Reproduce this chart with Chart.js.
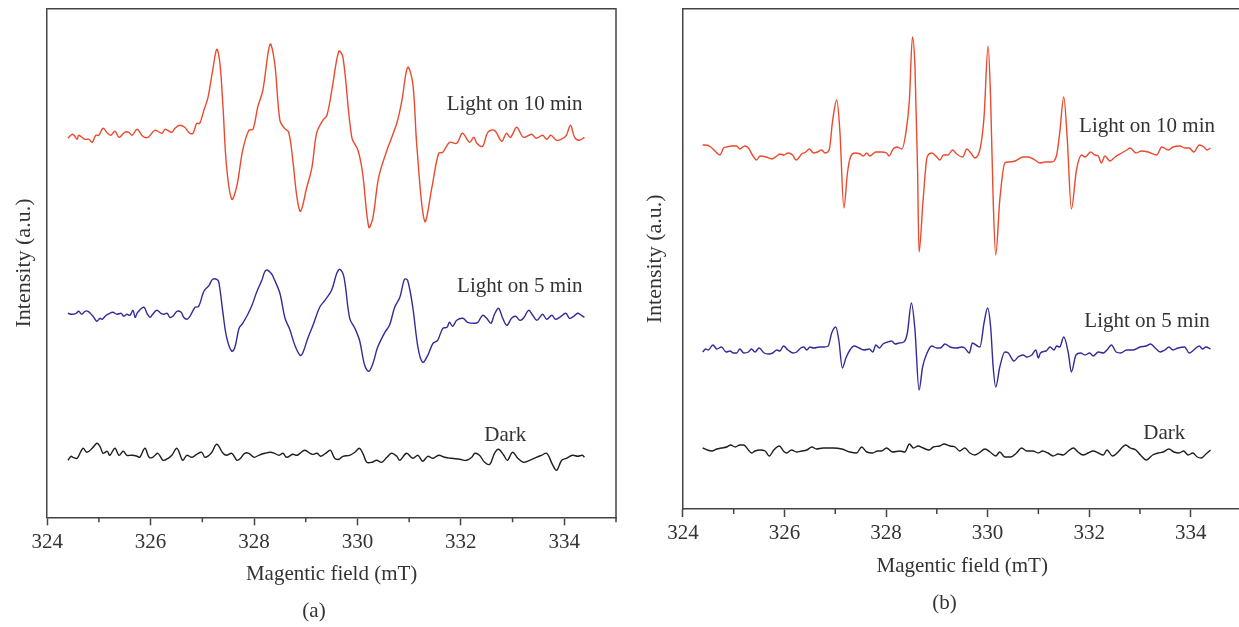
<!DOCTYPE html>
<html>
<head>
<meta charset="utf-8">
<script src="https://cdn.jsdelivr.net/npm/chart.js@4.4.0/dist/chart.umd.min.js"></script>
<style>
  body { margin: 0; background: #fff; overflow: hidden; }
  #wrap { position: relative; width: 1239px; height: 627px; overflow: hidden; }
  canvas { position: absolute; top: 0; }
  #chartA { left: 0; }
  #chartB { left: 620px; }
</style>
</head>
<body>
<div id="wrap">
  <canvas id="chartA" width="640" height="627"></canvas>
  <canvas id="chartB" width="640" height="627"></canvas>
</div>
<script>
// EPR spectra, magnetic field in mT, intensity in arbitrary units

// (a) light on 10 min
var fieldA10 = [
  324.40,324.48,324.52,324.58,324.61,324.73,324.81,324.87,324.94,325.00,
  325.08,325.17,325.23,325.31,325.39,325.50,325.58,325.64,325.74,325.85,
  325.95,326.08,326.22,326.28,326.41,326.47,326.56,326.66,326.72,326.76,
  326.82,326.89,326.95,327.03,327.11,327.20,327.28,327.34,327.40,327.47,
  327.57,327.67,327.78,327.90,327.98,328.07,328.17,328.31,328.40,328.50,
  328.59,328.67,328.75,328.83,328.90,329.02,329.12,329.21,329.33,329.41,
  329.52,329.64,329.72,329.89,330.01,330.10,330.22,330.30,330.41,330.57,
  330.76,330.86,330.97,331.07,331.15,331.30,331.44,331.57,331.65,331.78,
  331.92,332.03,332.17,332.25,332.31,332.42,332.52,332.65,332.79,332.88,
  332.96,333.08,333.21,333.37,333.46,333.58,333.66,333.74,333.85,333.97,
  334.04,334.12,334.20,334.29,334.39
];
var intA10 = [
  379,383,382,378,382,378,378,375,382,382,
  389,384,382,386,380,385,385,382,388,381,
  380,387,384,388,385,389,392,390,386,384,
  384,394,394,407,420,447,468,454,410,350,
  318,332,367,387,388,410,427,473,454,397,
  389,385,357,320,306,330,350,384,397,402,
  432,466,460,380,367,344,290,300,340,367,
  394,417,450,434,370,296,330,364,365,375,
  374,384,375,380,374,371,385,387,376,384,
  380,390,380,383,379,382,378,382,377,379,
  382,392,380,377,380
];

// (a) light on 5 min
var fieldA5 = [
  324.40,324.48,324.56,324.61,324.67,324.73,324.79,324.87,324.90,324.96,
  325.02,325.06,325.14,325.21,325.27,325.35,325.43,325.48,325.54,325.60,
  325.66,325.70,325.75,325.87,325.93,325.99,326.04,326.12,326.20,326.26,
  326.32,326.37,326.43,326.51,326.59,326.64,326.70,326.76,326.86,326.93,
  327.03,327.13,327.20,327.28,327.32,327.40,327.47,327.57,327.63,327.71,
  327.78,327.88,327.96,328.05,328.15,328.23,328.33,328.40,328.50,328.60,
  328.69,328.79,328.89,328.94,329.04,329.14,329.27,329.37,329.50,329.60,
  329.66,329.74,329.85,329.95,330.04,330.14,330.22,330.30,330.39,330.53,
  330.62,330.72,330.82,330.91,330.97,331.07,331.17,331.26,331.36,331.46,
  331.55,331.65,331.73,331.78,331.84,331.92,332.04,332.13,332.27,332.33,
  332.42,332.50,332.58,332.65,332.73,332.81,332.89,332.98,333.06,333.14,
  333.21,333.31,333.39,333.47,333.58,333.66,333.76,333.83,333.91,334.03,
  334.10,334.18,334.26,334.33,334.39
];
var intA5 = [
  204,203,204,206,203,206,206,202,200,196,
  199,198,202,204,205,203,204,201,203,202,
  207,200,205,210,204,200,203,207,204,203,
  204,200,201,206,205,200,198,201,210,211,
  226,232,238,238,235,204,180,166,170,189,
  194,203,212,225,237,247,244,237,224,199,
  188,172,162,164,179,192,210,217,227,244,
  248,240,199,189,177,152,146,154,170,185,
  192,210,220,238,237,210,170,155,162,174,
  177,189,190,195,191,197,199,195,194,195,
  202,199,194,203,209,199,192,199,201,197,
  199,207,202,197,203,198,202,198,200,204,
  199,201,204,202,200
];

// (a) dark
var fieldADark = [
  324.40,324.46,324.50,324.58,324.69,324.77,324.87,324.96,325.02,325.08,
  325.16,325.21,325.31,325.39,325.47,325.54,325.64,325.74,325.79,325.89,
  325.97,326.04,326.14,326.24,326.34,326.41,326.51,326.62,326.70,326.80,
  326.89,326.99,327.05,327.17,327.28,327.40,327.47,327.57,327.67,327.74,
  327.82,327.90,328.00,328.09,328.21,328.31,328.40,328.48,328.56,328.63,
  328.75,328.83,328.89,328.98,329.12,329.22,329.29,329.41,329.48,329.56,
  329.64,329.72,329.85,329.95,330.04,330.12,330.18,330.28,330.37,330.47,
  330.57,330.66,330.76,330.82,330.95,331.07,331.17,331.26,331.36,331.46,
  331.57,331.69,331.82,331.98,332.11,332.21,332.27,332.36,332.46,332.56,
  332.65,332.73,332.83,332.90,333.00,333.10,333.21,333.33,333.46,333.56,
  333.66,333.77,333.85,333.95,334.04,334.16,334.26,334.35,334.39
];
var intADark = [
  57,61,60,59,69,65,69,74,71,64,
  66,62,69,62,66,62,62,61,60,69,
  60,60,64,57,59,62,69,57,62,60,
  63,65,60,64,73,64,62,64,57,59,
  64,64,60,62,64,65,64,62,64,60,
  63,62,64,67,63,64,61,65,67,59,
  58,61,62,65,69,62,55,55,57,55,
  60,64,61,57,64,59,62,56,61,59,
  62,60,59,58,57,60,64,62,55,53,
  64,68,62,57,65,59,55,57,60,62,
  64,53,47,57,59,62,61,62,60
];

// (b) light on 10 min
var fieldB10 = [
  324.39,324.45,324.55,324.63,324.73,324.80,324.86,324.96,325.06,325.12,
  325.22,325.29,325.37,325.45,325.52,325.64,325.75,325.85,325.91,325.99,
  326.07,326.16,326.23,326.34,326.42,326.49,326.57,326.65,326.73,326.80,
  326.88,326.95,327.03,327.09,327.17,327.24,327.30,327.39,327.49,327.55,
  327.62,327.68,327.80,327.91,328.01,328.06,328.14,328.22,328.31,
  328.39,328.46,328.52,328.57,328.62,328.65,328.73,328.81,328.90,329.00,
  329.06,329.13,329.22,329.31,329.39,329.51,329.59,329.67,329.75,329.86,
  329.93,330.01,330.06,330.11,330.16,330.24,330.34,330.41,330.54,330.70,
  330.80,330.93,331.03,331.13,331.26,331.36,331.42,331.50,331.57,331.65,
  331.75,331.85,331.92,332.03,332.11,332.18,332.24,332.31,332.41,332.51,
  332.64,332.74,332.81,332.92,333.03,333.16,333.33,333.43,333.56,333.65,
  333.79,333.88,333.97,334.06,334.17,334.26,334.32,334.39
];
var intB10 = [
  364,364,362,358,354,361,362,363,363,360,
  363,361,354,349,353,352,350,353,355,354,
  356,354,349,355,357,360,356,357,359,356,
  359,389,409,379,301,336,352,356,355,353,
  356,353,357,357,356,353,360,362,360,
  376,409,472,442,342,257,309,352,356,352,
  349,354,354,359,355,352,360,356,351,362,
  392,463,409,309,254,309,346,347,348,352,
  352,349,346,347,347,354,376,412,369,300,
  339,354,352,357,354,353,346,353,348,352,
  356,359,361,356,358,357,354,362,359,362,
  363,361,361,357,364,362,359,361
];

// (b) light on 5 min
var fieldB5 = [
  324.39,324.45,324.50,324.59,324.67,324.76,324.85,324.93,324.99,325.06,
  325.12,325.20,325.29,325.35,325.42,325.50,325.60,325.68,325.77,325.85,
  325.91,325.98,326.07,326.17,326.24,326.32,326.38,326.44,326.50,326.58,
  326.69,326.78,326.86,326.93,327.01,327.07,327.14,327.21,327.29,327.37,
  327.47,327.57,327.67,327.74,327.80,327.87,327.94,328.03,328.11,328.18,
  328.26,328.35,328.42,328.50,328.57,328.65,328.72,328.80,328.90,329.00,
  329.07,329.16,329.26,329.39,329.49,329.55,329.64,329.70,329.80,329.85,
  329.93,330.00,330.06,330.11,330.16,330.24,330.34,330.41,330.52,330.60,
  330.70,330.77,330.87,330.95,331.00,331.04,331.15,331.23,331.31,331.36,
  331.42,331.50,331.59,331.65,331.74,331.83,331.92,332.01,332.08,332.18,
  332.28,332.35,332.44,332.53,332.62,332.74,332.87,333.00,333.12,333.21,
  333.30,333.40,333.49,333.57,333.65,333.75,333.88,333.97,334.06,334.17,
  334.23,334.30,334.39
];
var intB5 = [
  157,160,159,164,160,162,157,158,156,156,
  160,156,157,160,157,161,156,155,156,159,
  158,163,159,156,157,161,162,159,162,161,
  162,162,163,176,182,169,141,151,159,163,
  161,159,160,157,164,161,165,167,168,165,
  166,167,176,206,179,119,142,155,163,161,
  161,165,162,161,162,161,156,166,163,162,
  186,201,182,142,122,142,157,156,148,152,
  154,152,154,159,151,156,158,162,159,163,
  162,172,156,137,154,156,154,156,153,157,
  156,159,164,157,156,159,159,162,163,165,
  161,157,159,162,159,161,162,156,159,163,
  160,162,160
];

// (b) dark
var fieldBDark = [
  324.39,324.48,324.57,324.67,324.76,324.86,324.94,325.03,325.12,325.20,
  325.29,325.35,325.42,325.52,325.62,325.70,325.79,325.90,325.98,326.04,
  326.14,326.24,326.34,326.44,326.54,326.63,326.76,326.96,327.13,327.29,
  327.42,327.52,327.62,327.74,327.83,327.91,328.01,328.13,328.27,328.37,
  328.46,328.54,328.63,328.73,328.85,328.93,329.06,329.14,329.26,329.36,
  329.45,329.55,329.65,329.75,329.83,329.95,330.05,330.16,330.24,330.34,
  330.45,330.57,330.67,330.77,330.89,331.00,331.08,331.19,331.29,331.39,
  331.49,331.59,331.69,331.78,331.88,331.98,332.08,332.18,332.28,332.35,
  332.46,332.55,332.64,332.72,332.81,332.92,333.01,333.13,333.25,333.36,
  333.46,333.57,333.67,333.77,333.86,333.95,334.04,334.13,334.21,334.30,
  334.39
];
var intBDark = [
  61,59,58,60,61,62,64,62,64,64,
  59,56,58,59,58,53,59,63,58,56,
  59,57,58,59,62,60,61,61,60,57,
  56,62,57,56,58,58,61,57,58,57,
  65,61,63,61,59,62,63,65,63,62,
  58,61,56,54,56,60,57,53,57,52,
  52,56,61,58,58,56,58,56,53,55,
  54,58,61,57,54,56,58,56,54,59,
  53,56,61,64,61,59,54,49,54,56,
  57,60,57,56,58,54,56,52,51,55,
  59
];

var RED = '#eb4a2e', BLUE = '#312c97', BLACK = '#1f1f1f';
var SERIF = '"Liberation Serif", "Times New Roman", serif';

function points(xs, ys) {
  return xs.map(function(x, i) { return { x: x, y: ys[i] }; });
}

// broad lines (a) get a plain bezier, the narrow lines (b) stay monotone
function trace(xs, ys, color, smooth) {
  var ds = {
    data: points(xs, ys),
    borderColor: color,
    borderWidth: 1.4,
    pointRadius: 0,
    fill: false
  };
  if (smooth) ds.tension = 0.35;
  else ds.cubicInterpolationMode = 'monotone';
  return ds;
}

// frame, minor ticks and all the text of one panel
var panelDecor = {
  id: 'panelDecor',
  afterDraw: function(chart, args, opts) {
    var ctx = chart.ctx, a = chart.chartArea;
    var xs = chart.scales.x, ys = chart.scales.y;
    ctx.save();
    ctx.strokeStyle = '#444';
    ctx.lineWidth = 1.5;
    ctx.beginPath();
    ctx.moveTo(a.left, a.top);
    ctx.lineTo(a.right, a.top);
    ctx.lineTo(a.right, a.bottom);
    ctx.stroke();

    ctx.beginPath();
    for (var v = 325; v <= 335; v += 2) {
      var px = xs.getPixelForValue(v);
      ctx.moveTo(px, a.bottom);
      ctx.lineTo(px, a.bottom + 5);
    }
    ctx.stroke();

    ctx.fillStyle = '#333';
    ctx.font = '21px ' + SERIF;
    ctx.textAlign = 'center';
    ctx.textBaseline = 'alphabetic';
    opts.labels.forEach(function(l) {
      ctx.fillText(l.text, xs.getPixelForValue(l.x), ys.getPixelForValue(l.y));
    });
    ctx.fillText('Magentic field (mT)', (a.left + a.right) / 2, a.bottom + opts.titleGap);
    ctx.fillText(opts.tag, opts.tagX, a.bottom + opts.tagGap);

    ctx.font = '22px ' + SERIF;
    ctx.translate(opts.yTitleX, (a.top + a.bottom) / 2);
    ctx.rotate(-Math.PI / 2);
    ctx.fillText('Intensity (a.u.)', 0, 0);
    ctx.restore();
  }
};

function makePanel(id, datasets, o) {
  return new Chart(document.getElementById(id), {
    type: 'line',
    data: { datasets: datasets },
    plugins: [panelDecor],
    options: {
      responsive: false,
      animation: false,
      devicePixelRatio: 1,
      layout: { padding: { top: 8.7, right: o.padRight, left: 0, bottom: 0 } },
      plugins: {
        legend: { display: false },
        tooltip: { enabled: false },
        panelDecor: o.decor
      },
      scales: {
        x: {
          type: 'linear',
          min: 324,
          max: 335,
          afterFit: function(s) { s.height = o.xHeight; },
          border: { display: true, color: '#444', width: 1.5 },
          grid: {
            drawOnChartArea: false,
            drawTicks: true,
            tickLength: 8,
            tickWidth: 1.5,
            tickColor: function(c) { return c.tick && c.tick.value % 2 === 0 ? '#444' : 'rgba(0,0,0,0)'; }
          },
          ticks: {
            stepSize: 1,
            autoSkip: false,
            maxRotation: 0,
            padding: o.tickPad,
            color: '#333',
            font: { family: SERIF, size: 21 },
            callback: function(v) { return v % 2 === 0 ? String(v) : ''; }
          }
        },
        y: {
          type: 'linear',
          min: 0,
          max: o.yMax,
          afterFit: function(s) { s.width = o.yWidth; },
          border: { display: true, color: '#444', width: 1.5 },
          grid: { display: false },
          ticks: { display: false }
        }
      }
    }
  });
}

makePanel('chartA', [
  trace(fieldA10, intA10, RED, true),
  trace(fieldA5, intA5, BLUE, true),
  trace(fieldADark, intADark, BLACK, true)
], {
  padRight: 24, xHeight: 109.7, yWidth: 47.2, yMax: 508.6, tickPad: 5,
  decor: {
    titleGap: 62.7, tag: '(a)', tagX: 314, tagGap: 99.7, yTitleX: 30,
    labels: [
      { text: 'Light on 10 min', x: 333.04, y: 407 },
      { text: 'Light on 5 min', x: 333.14, y: 225.5 },
      { text: 'Dark', x: 332.86, y: 76 }
    ]
  }
});

makePanel('chartB', [
  trace(fieldB10, intB10, RED, false),
  trace(fieldB5, intB5, BLUE, false),
  trace(fieldBDark, intBDark, BLACK, false)
], {
  padRight: 18.5, xHeight: 118, yWidth: 62.9, yMax: 500.3, tickPad: 4,
  decor: {
    titleGap: 63, tag: '(b)', tagX: 324.6, tagGap: 100, yTitleX: 41,
    labels: [
      { text: 'Light on 10 min', x: 333.14, y: 377.5 },
      { text: 'Light on 5 min', x: 333.14, y: 182 },
      { text: 'Dark', x: 333.48, y: 70 }
    ]
  }
});
</script>
</body>
</html>
